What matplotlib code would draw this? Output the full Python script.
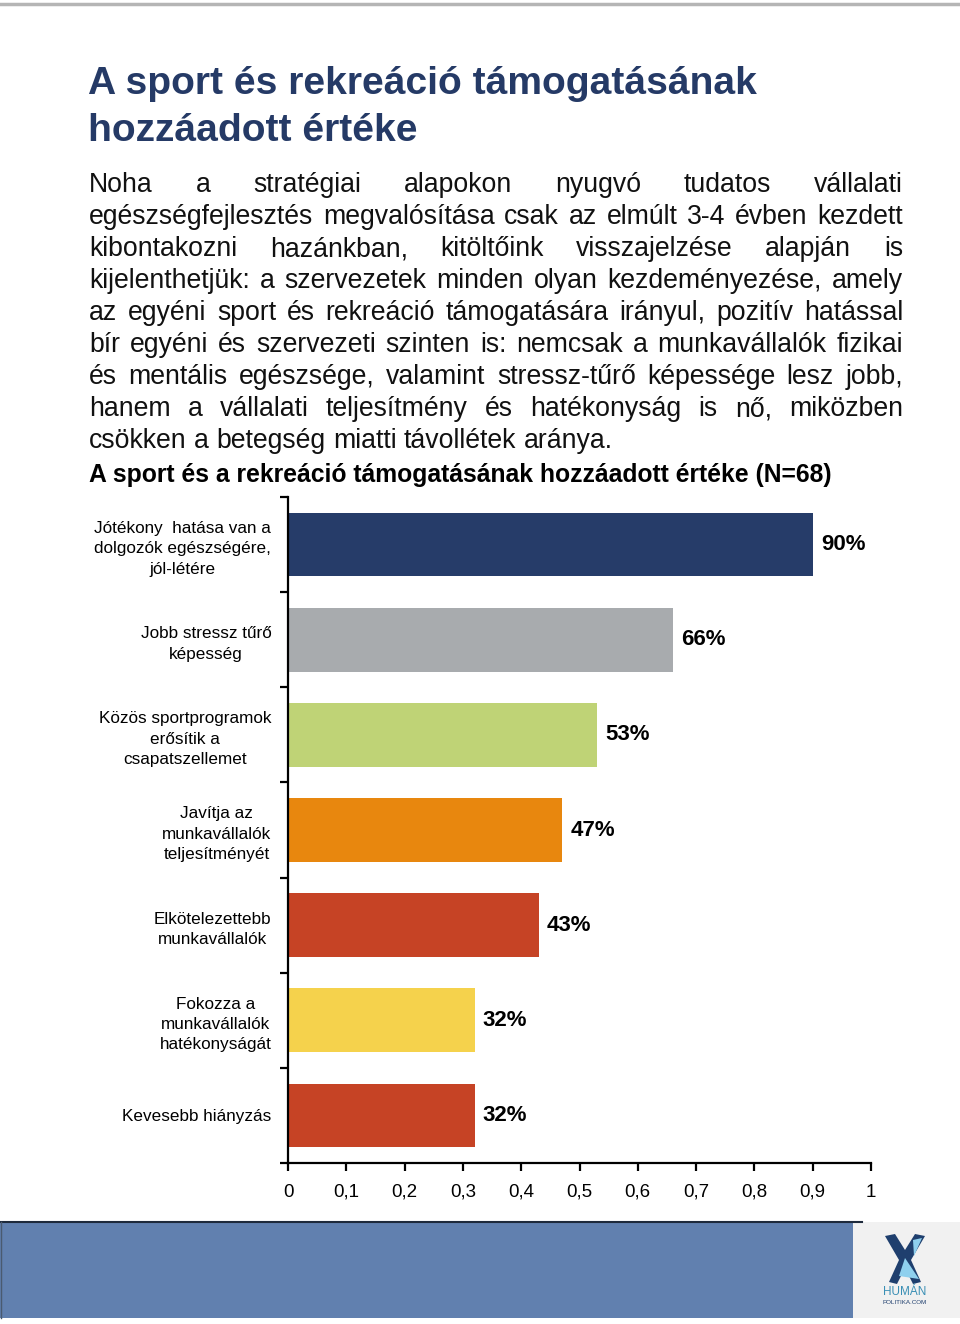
import matplotlib
matplotlib.use("Agg")
import matplotlib.pyplot as plt
from matplotlib import font_manager
from matplotlib.patches import Rectangle, Polygon
import numpy as np

# adatok
kategoriak = [
    "Jótékony  hatása van a\ndolgozók egészségére,\njól-létére",
    "Jobb stressz tűrő\nképesség",
    "Közös sportprogramok\nerősítik a\ncsapatszellemet",
    "Javítja az\nmunkavállalók\nteljesítményét",
    "Elkötelezettebb\nmunkavállalók",
    "Fokozza a\nmunkavállalók\nhatékonyságát",
    "Kevesebb hiányzás",
]
ertekek = [0.90, 0.66, 0.53, 0.47, 0.43, 0.32, 0.32]
szinek = ["#263C69", "#A8ABAE", "#BFD376", "#E8870E", "#C64325", "#F5D24C", "#C64325"]
xtick_ertekek = [0, 0.1, 0.2, 0.3, 0.4, 0.5, 0.6, 0.7, 0.8, 0.9, 1]
xtick_cimkek = ["0", "0,1", "0,2", "0,3", "0,4", "0,5", "0,6", "0,7", "0,8", "0,9", "1"]

cim = ["A sport és rekreáció támogatásának", "hozzáadott értéke"]
bekezdes = [
    "Noha a stratégiai alapokon nyugvó tudatos vállalati",
    "egészségfejlesztés megvalósítása csak az elmúlt 3-4 évben kezdett",
    "kibontakozni hazánkban, kitöltőink visszajelzése alapján is",
    "kijelenthetjük: a szervezetek minden olyan kezdeményezése, amely",
    "az egyéni sport és rekreáció támogatására irányul, pozitív hatással",
    "bír egyéni és szervezeti szinten is: nemcsak a munkavállalók fizikai",
    "és mentális egészsége, valamint stressz-tűrő képessége lesz jobb,",
    "hanem a vállalati teljesítmény és hatékonyság is nő, miközben",
    "csökken a betegség miatti távollétek aránya.",
]
alcim = "A sport és a rekreáció támogatásának hozzáadott értéke (N=68)"

nevek = {f.name for f in font_manager.fontManager.ttflist}
SANS = "Liberation Sans" if "Liberation Sans" in nevek else "DejaVu Sans"
NARROW = "Liberation Sans Narrow" if "Liberation Sans Narrow" in nevek else SANS

W, H = 960, 1324
fig = plt.figure(figsize=(W / 100, H / 100), dpi=100)
bg = fig.add_axes([0, 0, 1, 1])
bg.set_xlim(0, W)
bg.set_ylim(H, 0)
bg.axis("off")
renderer = fig.canvas.get_renderer()


def szelesseg(t):
    return t.get_window_extent(renderer).width


def illeszt(szoveg, cel, **kw):
    t = bg.text(0, -100, szoveg, fontsize=20, **kw)
    w = szelesseg(t)
    t.remove()
    return 20 * cel / w


# felső szürke vonal
bg.plot([0, W], [4, 4], color="#B5B5B5", lw=2.5)

# cím
cim_meret = illeszt(cim[0], 667, family=NARROW, weight="bold")
bg.text(88, 94, cim[0], fontsize=cim_meret, family=NARROW, weight="bold",
        color="#253A66", va="baseline")
bg.text(88, 141, cim[1], fontsize=cim_meret, family=NARROW, weight="bold",
        color="#253A66", va="baseline")

# sorkizárt bekezdés
bal, jobb = 89, 903
bek_meret = illeszt(bekezdes[-1], 522, family=SANS)
for i, sor in enumerate(bekezdes):
    y = 192 + 32 * i
    szavak = sor.split()
    tk = [bg.text(0, y, s, fontsize=bek_meret, family=SANS, va="baseline", color="#111111")
          for s in szavak]
    ws = [szelesseg(t) for t in tk]
    if i < len(bekezdes) - 1 and len(szavak) > 1:
        gap = (jobb - bal - sum(ws)) / (len(szavak) - 1)
    else:
        gap = bek_meret * 0.278 * 1.389
    x = bal
    for t, w in zip(tk, ws):
        t.set_x(x)
        x += w + gap

# alcím
alcim_meret = illeszt(alcim, 742, family=NARROW, weight="bold")
bg.text(89, 482, alcim, fontsize=alcim_meret, family=NARROW, weight="bold",
        color="black", va="baseline")

# diagram
ax = fig.add_axes([288 / W, 1 - 1163 / H, (871 - 288) / W, (1163 - 497) / H])
y = np.arange(len(kategoriak))
ax.barh(y, ertekek, height=0.67, color=szinek)
ax.set_xlim(0, 1)
ax.set_ylim(len(kategoriak) - 0.5, -0.5)
for s in ["top", "right"]:
    ax.spines[s].set_visible(False)
for s in ["left", "bottom"]:
    ax.spines[s].set_linewidth(1.6)
ax.set_xticks(xtick_ertekek)
ax.set_xticklabels(xtick_cimkek, fontsize=13.5, family=SANS)
ax.tick_params(axis="x", length=6, width=1.6, pad=9)
ax.set_yticks(y)
ax.set_yticklabels(kategoriak, fontsize=12.3, family=SANS, linespacing=1.45)
for lbl in ax.get_yticklabels():
    lbl.set_multialignment("center")
ax.tick_params(axis="y", which="major", length=0, pad=12)
ax.set_yticks(np.arange(-0.5, len(kategoriak)), minor=True)
ax.tick_params(axis="y", which="minor", length=6, width=1.6)
for yi, v in zip(y, ertekek):
    ax.text(v + 0.014, yi, f"{round(v * 100)}%", va="center", ha="left",
            fontsize=16, weight="bold", family=SANS)

# lábléc
bg.add_patch(Rectangle((0, 1222), 862, 96, facecolor="#6180AF", edgecolor="none"))
bg.plot([0, 862], [1222, 1222], color="#1E2A3C", lw=1.5)
bg.plot([1, 1], [1222, 1318], color="#4A5A70", lw=1)
bg.add_patch(Rectangle((853, 1222), 107, 96, facecolor="#F1F1F1", edgecolor="none"))
# logó
bg.add_patch(Polygon([[885, 1236], [895, 1234], [905, 1250], [915, 1234], [925, 1236],
                      [911, 1260], [921, 1282], [913, 1284], [905, 1268], [897, 1284],
                      [889, 1282], [899, 1260]], closed=True, facecolor="#1F3F6E"))
bg.add_patch(Polygon([[905, 1258], [919, 1279], [899, 1276]], closed=True,
                     facecolor="#8FD0EE"))
bg.add_patch(Polygon([[913, 1240], [922, 1238], [914, 1256]], closed=True,
                     facecolor="#8FD0EE"))
bg.text(905, 1292, "HUMÁN", ha="center", va="center", fontsize=8.5, color="#3A8FB5",
        family=SANS)
bg.text(905, 1302, "POLITIKA.COM", ha="center", va="center", fontsize=4.5,
        color="#1F3F6E", family=SANS)

fig.savefig("out.png", dpi=100)
